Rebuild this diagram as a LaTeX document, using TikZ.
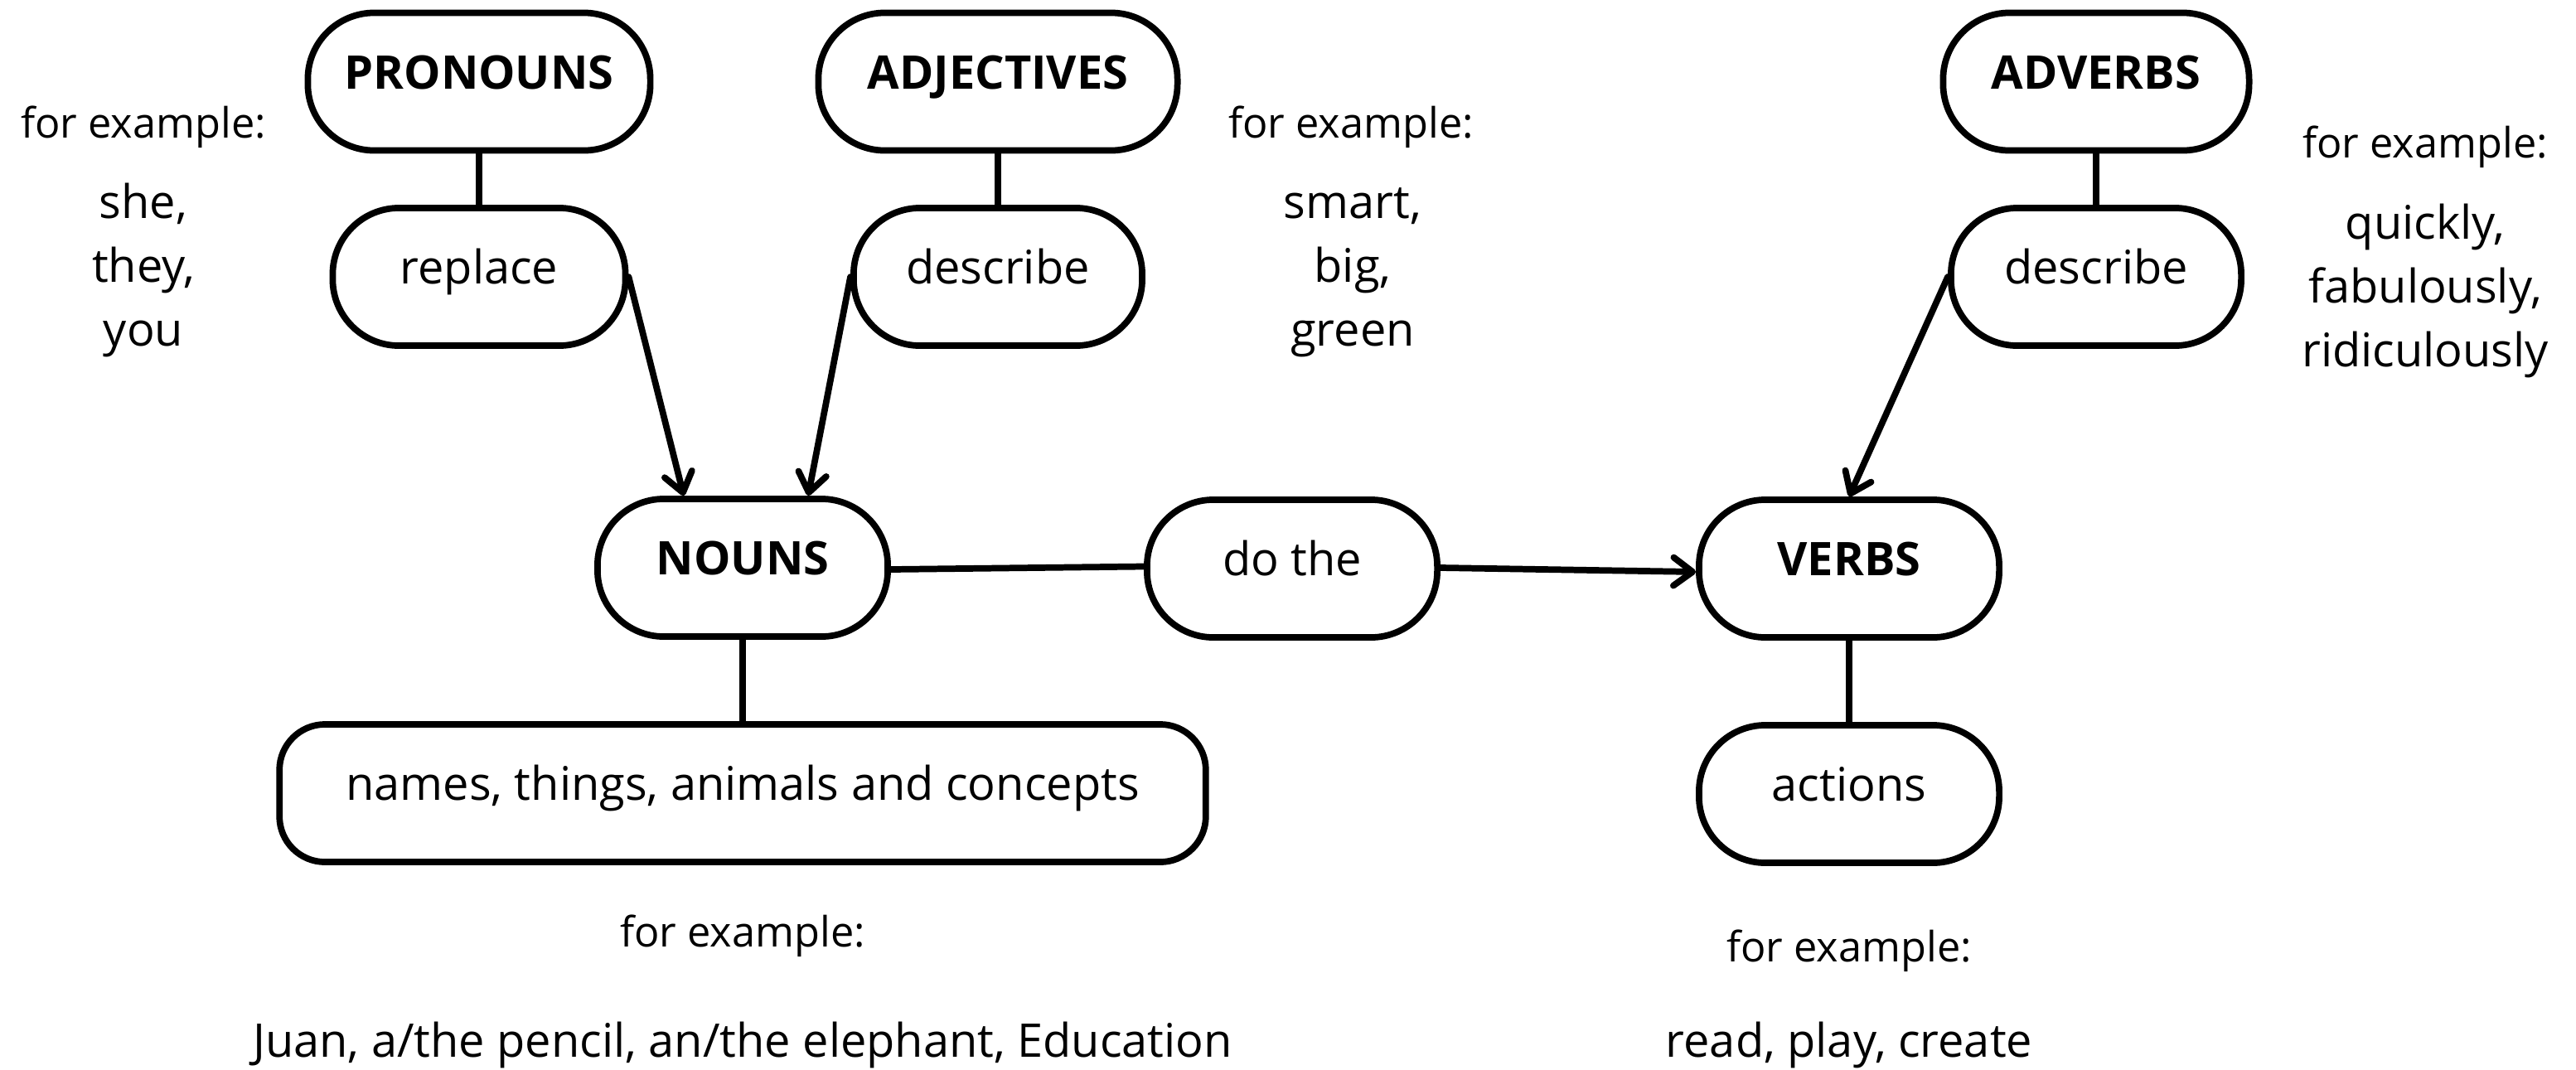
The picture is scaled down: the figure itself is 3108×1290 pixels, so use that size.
\documentclass[tikz,border=0pt]{standalone}
\usepackage{fontspec}
\setmainfont{Open Sans}
\usetikzlibrary{arrows.meta}
\newcommand\mainfs{\fontsize{15.9pt}{19pt}\selectfont}
\newcommand\exfs{\fontsize{14.35pt}{17pt}\selectfont}
\tikzset{
  box/.style={draw=black, line width=2.2pt, rounded corners=0.8cm,
    minimum height=1.66cm, text height=0.41cm, text depth=0.24cm,
    inner sep=0pt, font=\mainfs},
  lbl/.style={box, font=\mainfs\bfseries},
  link/.style={line width=2.2pt, line cap=round},
  arr/.style={link, -{Straight Barb[length=2.3mm,width=3.4mm,round]}},
  ex/.style={anchor=base, inner sep=0pt, font=\exfs},
  item/.style={anchor=base, inner sep=0pt, font=\mainfs},
}
\begin{document}
\begin{tikzpicture}[x=0.01cm,y=-0.01cm]
\useasboundingbox (0,0) rectangle (3108,1290);
% top row
\node[lbl, minimum width=4.13cm] (pron) at (578,98.5) {PRONOUNS};
\node[lbl, minimum width=4.33cm] (adj) at (1204,98.5) {ADJECTIVES};
\node[lbl, minimum width=3.69cm] (adv) at (2529,98.5) {ADVERBS};
% second row
\node[box, minimum width=3.53cm] (replace) at (578,334) {replace};
\node[box, minimum width=3.48cm] (descA) at (1204,334) {describe};
\node[box, minimum width=3.50cm] (descV) at (2529,334) {describe};
% middle row
\node[lbl, minimum width=3.50cm] (nouns) at (896,685) {NOUNS};
\node[box, minimum width=3.50cm] (dothe) at (1559,686) {do the};
\node[lbl, minimum width=3.62cm] (verbs) at (2231,686) {VERBS};
% bottom row
\node[box, minimum width=11.17cm, rounded corners=0.55cm] (names) at (896,957) {names, things, animals and concepts};
\node[box, minimum width=3.62cm] (actions) at (2231,958) {actions};

% examples: pronouns
\node[ex] (fe1) at (173,166) {for example:};
\node[item] (p1) at (173,263) {she,};
\node[item] (p2) at (173,340) {they,};
\node[item] (p3) at (173,417) {you};
% examples: adjectives
\node[ex] (fe2) at (1630,166) {for example:};
\node[item] (a1) at (1632,263) {smart,};
\node[item] (a2) at (1632,340) {big,};
\node[item] (a3) at (1632,417) {green};
% examples: adverbs
\node[ex] (fe3) at (2926,190) {for example:};
\node[item] (d1) at (2926,288) {quickly,};
\node[item] (d2) at (2926,365) {fabulously,};
\node[item] (d3) at (2926,442) {ridiculously};
% examples: nouns
\node[ex] (fe4) at (896,1142) {for example:};
\node[item] (n1) at (896,1275) {Juan, a/the pencil, an/the elephant, Education};
% examples: verbs
\node[ex] (fe5) at (2231,1160) {for example:};
\node[item] (v1) at (2231,1275) {read, play, create};

% connectors
\draw[link] (pron.south) -- (replace.north);
\draw[link] (adj.south) -- (descA.north);
\draw[link] (adv.south) -- (descV.north);
\draw[link] (nouns.south) -- (names.north);
\draw[link] (verbs.south) -- (actions.north);
\draw[arr] (replace.east) -- ([xshift=-0.71cm]nouns.north);
\draw[arr] (descA.west) -- ([xshift=0.79cm]nouns.north);
\draw[arr] (descV.west) -- (verbs.north);
\draw[link] ([yshift=-0.02cm]nouns.east) -- ([yshift=0.025cm]dothe.west);
\draw[arr] ([yshift=0.01cm]dothe.east) -- ([yshift=-0.04cm]verbs.west);
\end{tikzpicture}
\end{document}
